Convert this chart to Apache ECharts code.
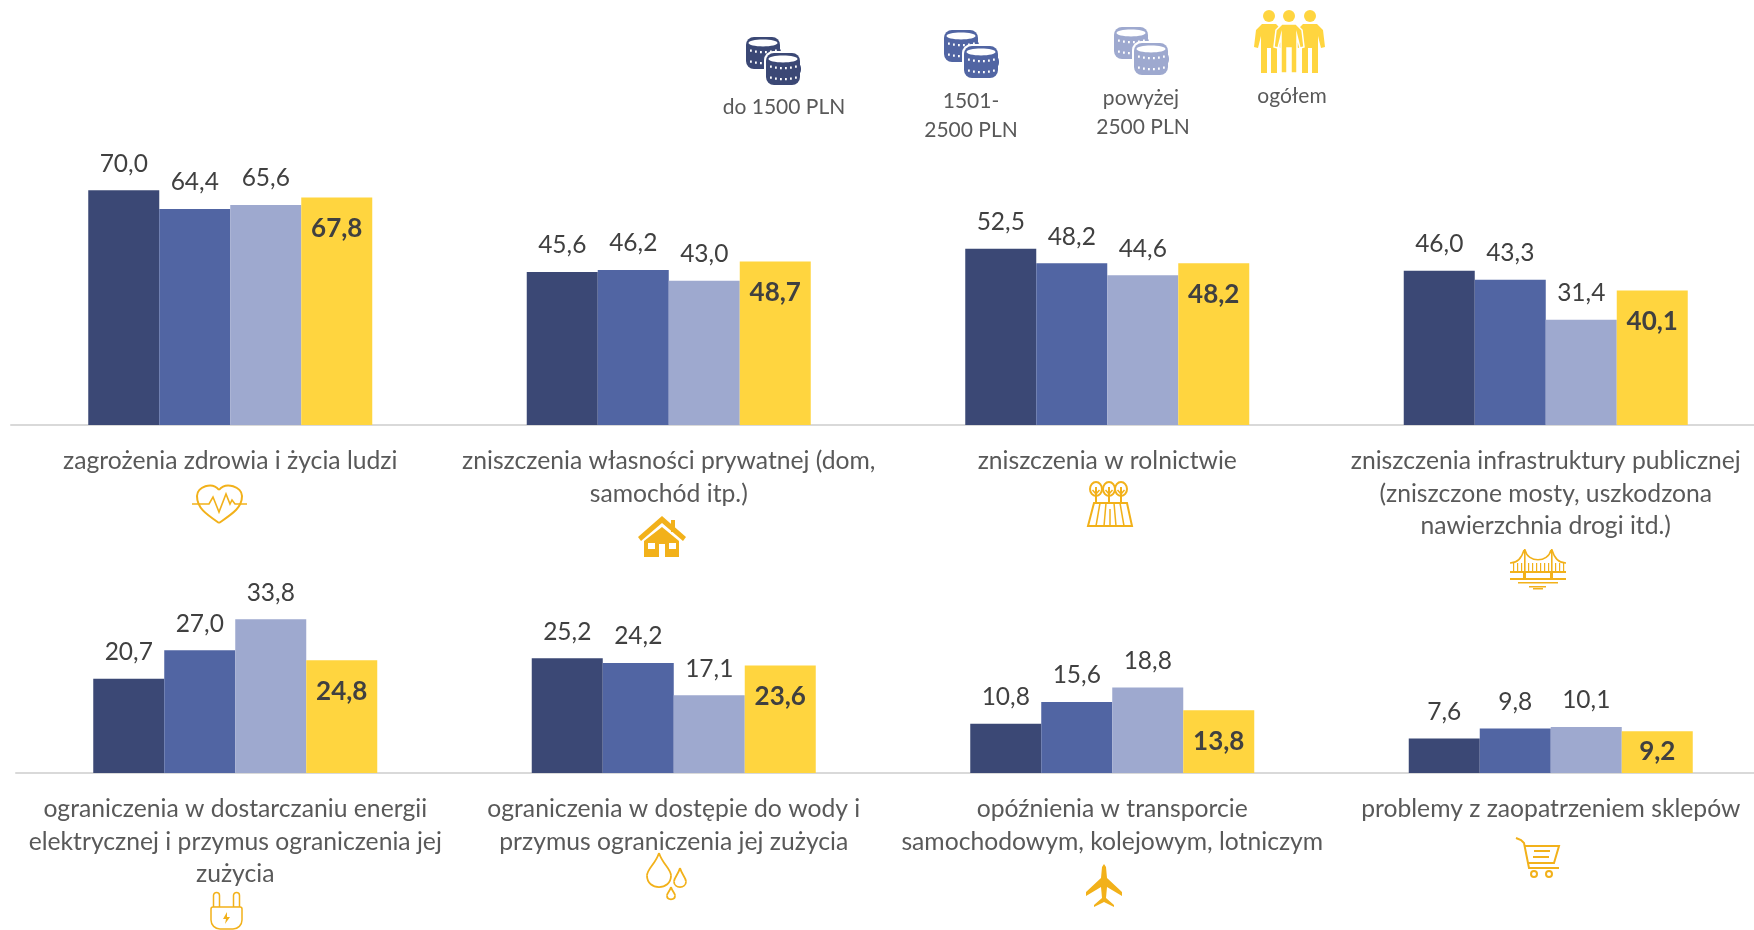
<!DOCTYPE html>
<html lang="pl">
<head>
<meta charset="UTF-8">
<title>Wykres</title>
<style>html,body{margin:0;padding:0;background:#fff}#chart{width:1754px;height:930px}</style>
</head>
<body>
<div id="chart"></div>
<script src="https://cdn.jsdelivr.net/npm/echarts@6/dist/echarts.min.js"></script>
<script>
var categoriesTop = [
    'zagrożenia zdrowia i życia ludzi',
    'zniszczenia własności prywatnej (dom,\nsamochód itp.)',
    'zniszczenia w rolnictwie',
    'zniszczenia infrastruktury publicznej\n(zniszczone mosty, uszkodzona\nnawierzchnia drogi itd.)'
];
var categoriesBottom = [
    'ograniczenia w dostarczaniu energii\nelektrycznej i przymus ograniczenia jej\nzużycia',
    'ograniczenia w dostępie do wody i\nprzymus ograniczenia jej zużycia',
    'opóźnienia w transporcie\nsamochodowym, kolejowym, lotniczym',
    'problemy z zaopatrzeniem sklepów'
];
var seriesNames = ['do 1500 PLN', '1501-2500 PLN', 'powyżej 2500 PLN', 'ogółem'];
var topLow = [70.0, 45.6, 52.5, 46.0];
var topMid = [64.4, 46.2, 48.2, 43.3];
var topHigh = [65.6, 43.0, 44.6, 31.4];
var topAll = [67.8, 48.7, 48.2, 40.1];
var bottomLow = [20.7, 25.2, 10.8, 7.6];
var bottomMid = [27.0, 24.2, 15.6, 9.8];
var bottomHigh = [33.8, 17.1, 18.8, 10.1];
var bottomAll = [24.8, 23.6, 13.8, 9.2];

var colors = ['#3B4875', '#5165A3', '#9EA9CF', '#FFD53F'];
var iconColor = '#F2B11A';
var font = 'Lato';

var chart = echarts.init(document.getElementById('chart'));

function fmt(p) {
    return p.value.toFixed(1).replace('.', ',');
}

function barSeries(i, data, axis) {
    var isAll = i === 3;
    return {
        name: seriesNames[i],
        type: 'bar',
        xAxisIndex: axis,
        yAxisIndex: axis,
        // the lowest total does not fit under the bar top, its label sits in the middle
        data: data.map(function (v) {
            return isAll && v < 10 ? { value: v, label: { position: 'inside' } } : v;
        }),
        barWidth: 71,
        barGap: 0,
        itemStyle: { color: colors[i] },
        label: {
            show: true,
            position: isAll ? 'insideTop' : 'top',
            distance: isAll ? 18 : 14,
            formatter: fmt,
            fontFamily: font,
            fontSize: isAll ? 26 : 24.5,
            fontWeight: isAll ? 'bold' : 'normal',
            color: '#404040'
        }
    };
}

function xAxisFor(cats, idx) {
    return {
        type: 'category',
        gridIndex: idx,
        data: cats,
        axisTick: { show: false },
        axisLine: { lineStyle: { color: '#D9D9D9', width: 2 } },
        axisLabel: {
            interval: 0,
            hideOverlap: false,
            margin: 19.5,
            fontFamily: font,
            fontSize: 24.7,
            lineHeight: 32.7,
            color: '#595959',
            verticalAlign: 'top'
        }
    };
}

// icons, each drawn in its own local coordinates
function line(x1, y1, x2, y2, w, c) {
    return { type: 'line', shape: { x1: x1, y1: y1, x2: x2, y2: y2 }, style: { stroke: c || iconColor, lineWidth: w || 2 } };
}
function poly(pts, fill) {
    return { type: 'polygon', shape: { points: pts }, style: { fill: fill || iconColor } };
}
function pline(pts, w, smooth) {
    return { type: 'polyline', shape: { points: pts, smooth: smooth || 0 }, style: { stroke: iconColor, fill: null, lineWidth: w || 2 } };
}
function rect(x, y, w, h, fill, r) {
    return { type: 'rect', shape: { x: x, y: y, width: w, height: h, r: r || 0 }, style: { fill: fill || iconColor } };
}
function dot(x, y, r, fill) {
    return { type: 'circle', shape: { cx: x, cy: y, r: r }, style: { fill: fill || iconColor } };
}
function ring(x, y, r, w) {
    return { type: 'circle', shape: { cx: x, cy: y, r: r }, style: { fill: '#fff', stroke: iconColor, lineWidth: w || 2 } };
}
function curve(x1, y1, cx1, cy1, cx2, cy2, x2, y2, w) {
    return { type: 'bezierCurve', shape: { x1: x1, y1: y1, cpx1: cx1, cpy1: cy1, cpx2: cx2, cpy2: cy2, x2: x2, y2: y2 }, style: { stroke: iconColor, fill: null, lineWidth: w || 2 } };
}
function group(x, y, children) {
    return { type: 'group', x: x, y: y, children: children };
}

function coinStack(x, y, c) {
    var out = [rect(x, y, 34, 32, c, 8), rect(x + 1, y + 9, 34, 14, c, 6)];
    out.push({ type: 'ellipse', shape: { cx: x + 17, cy: y + 6, rx: 14.5, ry: 3.4 }, style: { fill: '#fff' } });
    for (var row = 0; row < 2; row++) {
        for (var k = 0; k < 6; k++) {
            var bow = k === 0 || k === 5 ? 0 : k === 1 || k === 4 ? 1 : 1.6;
            out.push(rect(x + 4 + k * 5, y + 12.5 + row * 11 + bow, 1.8, 2.2, '#fff'));
        }
    }
    return out;
}
function coins(x, y, c) {
    var a = coinStack(0, 0, c);
    var halo = rect(18, 14, 38, 35, '#fff', 9);
    var b = coinStack(20, 16, c);
    return group(x, y, a.concat([halo]).concat(b));
}
function person(x, c) {
    return [
        dot(x, 6, 6, c),
        poly([[x - 7, 14], [x + 7, 14], [x + 13, 20], [x + 15, 37], [x + 11, 38], [x + 8, 26], [x + 8, 63], [x + 2, 63], [x + 2, 38], [x - 2, 38], [x - 2, 63], [x - 8, 63], [x - 8, 26], [x - 11, 38], [x - 15, 37], [x - 13, 20]], c)
    ];
}
function people(x, y) {
    var c = colors[3];
    var mid = person(33, c);
    mid[1].style.stroke = '#fff';
    mid[1].style.lineWidth = 1.5;
    return group(x, y, person(13, c).concat(person(54, c)).concat(mid));
}
function heart(x, y) {
    return group(x, y, [
        curve(27, 39, 14, 30, 5, 24, 5, 12, 2),
        curve(5, 12, 5, 3, 20, -3, 27, 6, 2),
        curve(27, 6, 34, -3, 50, 3, 50, 12, 2),
        curve(50, 12, 50, 24, 40, 30, 27, 39, 2),
        { type: 'polyline', shape: { points: [[0, 20], [17, 20], [21, 13], [27, 28], [34, 10], [38, 20], [40, 16], [43, 20], [55, 20]] }, style: { fill: '#fff', stroke: iconColor, lineWidth: 1.6 } }
    ]);
}
function house(x, y) {
    return group(x, y, [
        poly([[24, 0], [48, 21], [45, 25], [24, 7], [3, 25], [0, 21]]),
        rect(33, 4, 4, 12),
        poly([[24, 11], [41, 25], [41, 41], [6, 41], [6, 25]]),
        rect(10, 27, 7, 6, '#fff'),
        rect(31, 27, 7, 6, '#fff'),
        rect(21, 28, 6, 13, '#fff')
    ]);
}
function tree(x) {
    return [
        { type: 'ellipse', shape: { cx: x, cy: 8, rx: 6, ry: 7 }, style: { fill: '#fff', stroke: iconColor, lineWidth: 2 } },
        line(x, 6, x, 23, 2), line(x - 3.5, 9, x, 13, 1.5), line(x + 3.5, 9, x, 13, 1.5)
    ];
}
function farm(x, y) {
    return group(x, y, [
        { type: 'polygon', shape: { points: [[6, 22], [39, 22], [44, 45], [0, 45]] }, style: { fill: '#fff', stroke: iconColor, lineWidth: 2 } },
        line(12, 22, 8, 45, 1.5), line(18, 22, 16, 45, 1.5), line(26, 22, 28, 45, 1.5), line(32, 22, 36, 45, 1.5), line(22, 28, 22, 45, 1.5)
    ].concat(tree(8)).concat(tree(21)).concat(tree(33)));
}
function bridge(x, y) {
    var parts = [
        rect(0, 22, 56, 2), rect(0, 29, 56, 2),
        rect(14, 0, 1.6, 23), rect(41, 0, 1.6, 23),
        rect(13, 24, 3, 6), rect(40, 24, 3, 6),
        rect(8, 33, 40, 1.5), rect(19, 37, 17, 1.5), rect(23, 39, 10, 1.5),
        curve(0, 14, 8, 14, 12, 8, 14, 1, 1.5),
        curve(15, 1, 18, 14, 38, 14, 41, 1, 1.5),
        curve(42, 1, 44, 8, 48, 14, 56, 14, 1.5)
    ];
    [3, 7, 11, 18, 22, 26, 30, 34, 38, 45, 49, 53].forEach(function (px) {
        parts.push(rect(px, 14, 1.2, 8));
    });
    return group(x, y, parts);
}
function plug(x, y) {
    return group(x, y, [
        { type: 'rect', shape: { x: 3.5, y: 0.5, width: 6, height: 15, r: [3, 3, 0, 0] }, style: { fill: '#fff', stroke: iconColor, lineWidth: 1.5 } },
        { type: 'rect', shape: { x: 23.5, y: 0.5, width: 6, height: 15, r: [3, 3, 0, 0] }, style: { fill: '#fff', stroke: iconColor, lineWidth: 1.5 } },
        { type: 'rect', shape: { x: 1, y: 15, width: 31, height: 22, r: [2, 2, 9, 9] }, style: { fill: '#fff', stroke: iconColor, lineWidth: 1.5 } },
        poly([[17, 20], [13, 27], [16, 27], [15, 32], [20, 25], [17, 25]])
    ]);
}
function drop(cx, top, bottom, w) {
    var rx = w / 2;
    var mid = bottom - rx * 1.1;
    return [
        curve(cx, top, cx - rx * 0.3, top + (mid - top) * 0.5, cx - rx, mid - rx * 0.6, cx - rx, mid, 1.8),
        curve(cx - rx, mid, cx - rx, bottom + rx * 0.15, cx + rx, bottom + rx * 0.15, cx + rx, mid, 1.8),
        curve(cx + rx, mid, cx + rx, mid - rx * 0.6, cx + rx * 0.3, top + (mid - top) * 0.5, cx, top, 1.8)
    ];
}
function drops(x, y) {
    return group(x, y, drop(12, 0, 36, 24).concat(drop(33, 15, 35, 12)).concat(drop(24, 34, 47, 8)));
}
function plane(x, y) {
    return group(x, y, [
        poly([[16, 3], [18, 0], [20, 3], [21, 14], [36, 28], [36, 32], [21, 23], [20, 34], [28, 41], [28, 43], [18, 38], [8, 43], [8, 41], [16, 34], [15, 23], [0, 32], [0, 28], [15, 14]])
    ]);
}
function cart(x, y) {
    return group(x, y, [
        pline([[0, 0], [5, 2], [8, 5], [13, 30], [43, 30]], 2),
        pline([[9, 8], [43, 8], [38, 25], [12, 25]], 2),
        line(18, 13, 34, 13, 2), line(17, 19, 33, 19, 2),
        ring(18, 36, 3, 2), ring(33, 36, 3, 2)
    ]);
}
function legendText(cx, cy, s) {
    return {
        type: 'text',
        x: cx,
        y: cy,
        style: { text: s, fontFamily: font, fontSize: 21, fill: '#595959', align: 'center', verticalAlign: 'middle' }
    };
}

var option = {
    backgroundColor: '#fff',
    animation: false,
    grid: [
        { left: 11, width: 1754, top: 156.6, height: 268.4, outerBoundsMode: 'none' },
        { left: 16, width: 1754, top: 591, height: 182, outerBoundsMode: 'none' }
    ],
    xAxis: [xAxisFor(categoriesTop, 0), xAxisFor(categoriesBottom, 1)],
    yAxis: [
        { type: 'value', gridIndex: 0, min: 0, max: 80, show: false },
        { type: 'value', gridIndex: 1, min: 0, max: 40, show: false }
    ],
    series: [
        barSeries(0, topLow, 0), barSeries(1, topMid, 0), barSeries(2, topHigh, 0), barSeries(3, topAll, 0),
        barSeries(0, bottomLow, 1), barSeries(1, bottomMid, 1), barSeries(2, bottomHigh, 1), barSeries(3, bottomAll, 1)
    ],
    graphic: { elements: [
        coins(746, 37, colors[0]), coins(944, 30, colors[1]), coins(1114, 27, colors[2]), people(1256, 10),
        legendText(784, 107, 'do 1500 PLN'),
        legendText(971, 101, '1501-'), legendText(971, 130, '2500 PLN'),
        legendText(1141, 98, 'powyżej'), legendText(1143, 127, '2500 PLN'),
        legendText(1292, 96, 'ogółem'),
        heart(192, 484), house(638, 516), farm(1088, 481), bridge(1510, 549),
        plug(210, 892), drops(647, 853), plane(1086, 864), cart(1516, 838)
    ] }
};
chart.setOption(option);
</script>
</body>
</html>
